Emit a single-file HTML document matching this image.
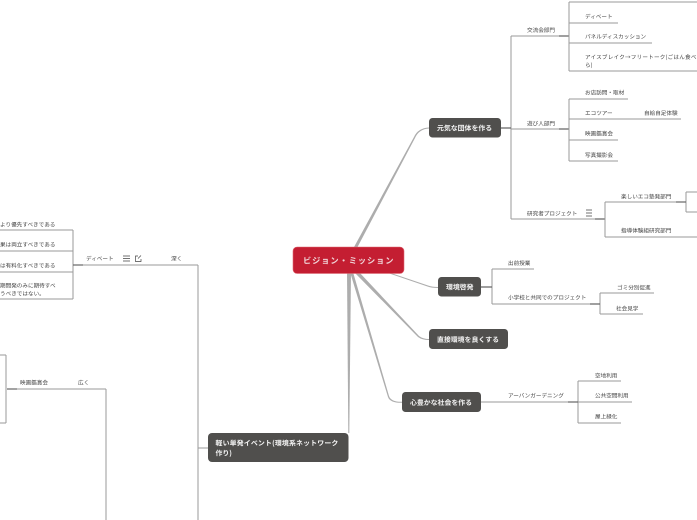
<!DOCTYPE html>
<html lang="ja"><head><meta charset="utf-8"><style>
html,body{margin:0;padding:0;background:#fff;width:697px;height:520px;overflow:hidden}
svg{display:block}
text{font-family:"Noto Sans CJK JP","Liberation Sans",sans-serif;text-rendering:geometricPrecision}
.t{font-size:5.6px;fill:#444}
.n{font-size:6.9px;font-weight:700;fill:#f4f4f4}
.l{fill:none;stroke:#9a9a9a;stroke-width:1}
.k{fill:none;stroke:#666;stroke-width:1.2}
.c{fill:#adadad}
</style></head><body>
<svg width="697" height="520" viewBox="0 0 697 520" xmlns="http://www.w3.org/2000/svg">
<!-- center connectors -->
<path class="c" d="M353.500 248 L414 137 Q418 128 429 127.500 L429 128.500 Q419 129 415 138 L357 248Z"/>
<path class="c" d="M385 272 L388 272 L428 285.500 Q432 287 438 287 L438 288 Q431 288 427.500 286.500Z"/>
<path class="c" d="M354 272 L359 272 L419 336 Q423 339 429 339 L429 340 Q422 340 418 337Z"/>
<path class="c" d="M350 272 L353 272 L389 396 Q391 402 402 401.800 L402 402.800 Q390 403 388 397Z"/>
<path class="c" d="M347 272 L351 272 L349.300 433 L348.300 433Z"/>
<!-- right top -->
<path class="l" d="M501 128H511M511 36V219M511 36H569M511 129H569M511 219H605"/>
<path class="k" d="M559 36H569M559 129H569M595 219H605M501 128H511"/>
<path class="l" d="M569 2V71M569 2H697M569 23H618M569 43H652M569 71H697"/>
<path class="l" d="M569 99V161M569 99H628M569 119H681M569 140H618M569 161H618"/>
<path class="l" d="M605 202V237M605 202H686M605 237H697M686 192V212M686 192H697M686 212H697"/>
<path class="k" d="M676 202H686"/>
<!-- kankyo -->
<path class="l" d="M492 269V304M492 269H534M492 304H600M600 293V314M600 293H654M600 314H643"/>
<path class="k" d="M481 287H492M590 304H600"/>
<!-- kokoro -->
<path class="l" d="M481 402H578M578 381V423M578 381H621M578 402H632M578 423H621"/>
<path class="k" d="M568 402H578"/>
<!-- left -->
<path class="l" d="M208 448H198M198 265V520M198 265H73M73 230V299M0 230H73M0 251H73M0 272H73M0 299H73"/>
<path class="k" d="M73 265H83"/>
<path class="l" d="M7 389H106M106 389V520M6 355V423M0 355H6M0 423H6"/>
<path class="k" d="M7 389H17"/>
<!-- nodes -->
<rect x="293" y="247" width="111" height="26.500" rx="4" fill="#c41e32" stroke="#e06a75" stroke-width=".6"/>
<text x="303" y="263.500" font-size="8.200" font-weight="700" fill="#f0d5d8" style="letter-spacing:.95px">ビジョン・ミッション</text>
<rect x="429" y="118" width="72" height="19.500" rx="3.500" fill="#504f4d"/>
<text class="n" x="437" y="130.500">元気な団体を作る</text>
<rect x="438" y="277" width="43" height="19.500" rx="3.500" fill="#504f4d"/>
<text class="n" x="446" y="289.500">環境啓発</text>
<rect x="429" y="329" width="79" height="20" rx="3.500" fill="#504f4d"/>
<text class="n" x="437" y="342">直接環境を良くする</text>
<rect x="402" y="392" width="79" height="20" rx="3.500" fill="#504f4d"/>
<text class="n" x="410" y="405">心豊かな社会を作る</text>
<rect x="208" y="433" width="140.500" height="29" rx="4" fill="#504f4d"/>
<text class="n" x="215.500" y="445.500" style="letter-spacing:.18px">軽い単発イベント(環境系ネットワーク</text>
<text class="n" x="215.500" y="455.500">作り)</text>
<!-- labels -->
<text class="t" x="527" y="32">交流会部門</text>
<text class="t" x="585" y="18.500">ディベート</text>
<text class="t" x="585" y="38.500">パネルディスカッション</text>
<text class="t" x="585" y="59" style="letter-spacing:.2px">アイスブレイク→フリートーク(ごはん食べ</text>
<text class="t" x="585" y="67">ら)</text>
<text class="t" x="585" y="94.500">お店訪問・取材</text>
<text class="t" x="585" y="115">エコツアー</text>
<text class="t" x="644" y="115">自給自足体験</text>
<text class="t" x="527" y="125.500">遊び人部門</text>
<text class="t" x="585" y="135.500">映画鑑賞会</text>
<text class="t" x="585" y="157">写真撮影会</text>
<text class="t" x="527" y="215.500">研究者プロジェクト</text>
<text class="t" x="621" y="198.500">楽しいエコ塾発部門</text>
<text class="t" x="621" y="232.500">指導体験組研究部門</text>
<path d="M586 210H592M586 213H592M586 216H592" stroke="#444" stroke-width=".8" fill="none"/>
<text class="t" x="508" y="265">出前授業</text>
<text class="t" x="508" y="299.500">小学校と共同でのプロジェクト</text>
<text class="t" x="617" y="289.500">ゴミ分別促進</text>
<text class="t" x="616" y="310.500">社会見学</text>
<text class="t" x="508" y="397.500">アーバンガーデニング</text>
<text class="t" x="595" y="377.500">空地利用</text>
<text class="t" x="595" y="397.500">公共空間利用</text>
<text class="t" x="595" y="418.500">屋上緑化</text>
<text class="t" x="86" y="260.500">ディベート</text>
<path d="M123 256H130M123 258.500H130M123 261H130" stroke="#444" stroke-width=".8" fill="none"/>
<path d="M138 256H135.500V261.500H141V259M138 258.500L141 255.500" stroke="#444" stroke-width=".7" fill="none"/>
<text class="t" x="171" y="260.500">深く</text>
<text class="t" x="0" y="226.500">より優先すべきである</text>
<text class="t" x="0" y="246.500">果は両立すべきである</text>
<text class="t" x="0" y="267.500">は有料化すべきである</text>
<text class="t" x="0" y="287.500">期間発のみに期待すべ</text>
<text class="t" x="0" y="295.500">うべきではない。</text>
<text class="t" x="20" y="384.500">映画鑑賞会</text>
<text class="t" x="78" y="384.500">広く</text>
</svg>
</body></html>
